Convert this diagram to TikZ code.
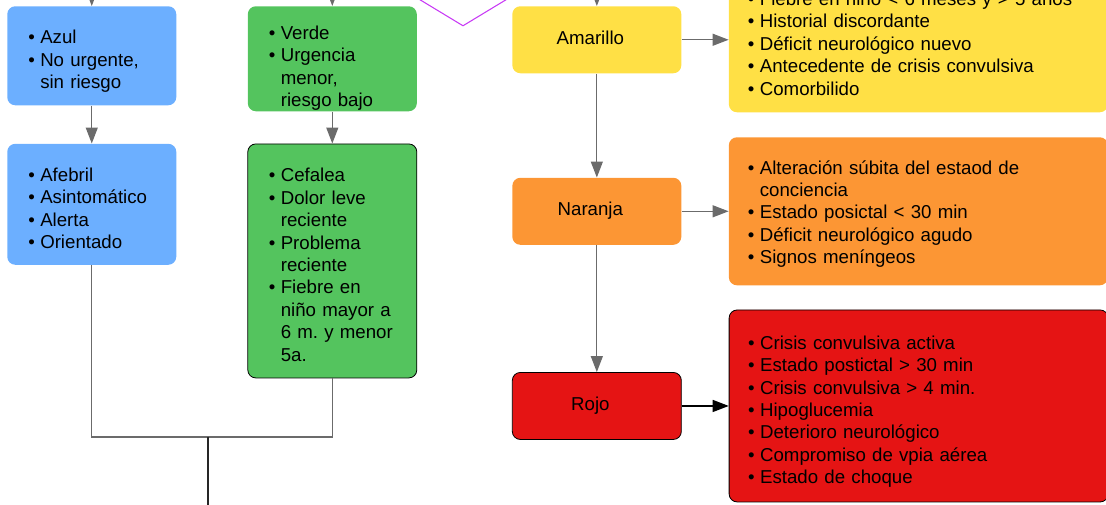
\documentclass[tikz,border=0pt]{standalone}
\usepackage{fontspec}
\setmainfont{Liberation Sans}
\usepackage{xcolor}
\usepackage{tikz}
\usetikzlibrary{positioning, arrows.meta, shapes.geometric}

\definecolor{azulF}{HTML}{6CAFFF}
\definecolor{verdeF}{HTML}{54C45E}
\definecolor{amarF}{HTML}{FFE045}
\definecolor{narF}{HTML}{FC9634}
\definecolor{rojoF}{HTML}{E51414}
\definecolor{lineaG}{HTML}{6B6B6B}
\definecolor{decF}{HTML}{C83AF5}

\frenchspacing
\newcommand{\lz}{\rule[-4.8pt]{0pt}{16.8pt}}
\newcommand{\bul}{\lz\makebox[9pt][l]{\textbullet}}
\newcommand{\bulI}[1][20.7pt]{\rule[-4.8pt]{0pt}{\dimexpr#1+4.8pt\relax}\makebox[9pt][l]{\textbullet}}
\newcommand{\sig}{\lz\hspace*{9pt}}
\newcommand{\sigF}[1]{\rule{0pt}{12pt}\hspace*{9pt}\raisebox{0pt}[\height][0pt]{#1}}

\begin{document}
\begin{tikzpicture}[
    x=0.75pt, y=-0.75pt,
    font=\fontsize{14}{16.8}\selectfont,
    box/.style={rectangle, rounded corners=6pt, inner ysep=0pt, inner xsep=15.75pt, text width=95.25pt, align=left},
    lista/.style={rectangle, rounded corners=6pt, inner ysep=0pt, inner xsep=14.25pt, text width=255.75pt, align=left},
    tag/.style={rectangle, rounded corners=6pt, minimum width=126.75pt, minimum height=50.25pt, text height=10.5pt, text depth=3.5pt},
    borde/.style={draw=black, line width=0.6pt},
    arr/.style={-{Triangle[length=12pt, width=9pt]}, draw=lineaG, line width=0.9pt},
    arrk/.style={-{Triangle[length=12pt, width=9pt]}, draw=black, line width=0.9pt}
]
\useasboundingbox (0,0) rectangle (1106,505);

\node[diamond, draw=decF, line width=0.8pt, minimum width=213pt, minimum height=129pt] (decision) at (463,-60) {};

\node[box, fill=azulF, minimum height=74.25pt, anchor=north west] (azul) at (7,6)
    {\bulI Azul\\ \bul No urgente,\\ \sig sin riesgo};
\node[box, fill=azulF, minimum height=90.75pt, below=28.5pt of azul] (afebril)
    {\bulI Afebril\\ \bul Asintomático\\ \bul Alerta\\ \bul Orientado};
\node[box, fill=verdeF, minimum height=78.75pt, right=53.25pt of azul.north east, anchor=north west] (verde)
    {\bulI[21.1pt]Verde\\ \bul Urgencia\\ \sig menor,\\ \sigF{riesgo bajo}};
\node[box, borde, fill=verdeF, minimum height=175.5pt, below=24pt of verde] (cefalea)
    {\bulI Cefalea\\ \bul Dolor leve\\ \sig reciente\\ \bul Problema\\ \sig reciente\\ \bul Fiebre en\\ \sig \mbox{niño mayor a}\\ \sig \mbox{6 m. y menor}\\ \sig 5a.};

\node[tag, fill=amarF, right=71.25pt of verde.north east, anchor=north west] (amarillo) {Amarillo\hspace*{9.75pt}};
\node[tag, fill=narF, below=78pt of amarillo] (naranja) {Naranja\hspace*{9.75pt}};
\node[tag, borde, fill=rojoF, below=95.25pt of naranja] (rojo) {Rojo\hspace*{9.75pt}};

\node[lista, fill=amarF, minimum height=108.75pt, right=35.25pt of amarillo] (listam)
    {\bulI Fiebre en niño < 6 meses y > 5 años\\ \bul Historial discordante\\ \bul Déficit neurológico nuevo\\ \bul Antecedente de crisis convulsiva\\ \bul Comorbilido};
\node[lista, fill=narF, minimum height=111pt, right=35.25pt of naranja] (listna)
    {\bulI[16.2pt]Alteración súbita del estaod de\\ \sig conciencia\\ \bul Estado posictal < 30 min\\ \bul Déficit neurológico agudo\\ \bul Signos meníngeos};
\node[lista, borde, fill=rojoF, minimum height=144pt, right=35.25pt of rojo] (listro)
    {\bulI Crisis convulsiva activa\\ \bul Estado postictal > 30 min\\ \bul Crisis convulsiva > 4 min.\\ \bul Hipoglucemia\\ \bul Deterioro neurológico\\ \bul Compromiso de vpia aérea\\ \bul Estado de choque};

\coordinate[above=25pt of azul.north] (inAzul);
\coordinate[above=25pt of verde.north] (inVerde);
\coordinate[above=25pt of amarillo.north] (inAmarillo);
\coordinate (merge) at (208,437);
\coordinate (salida) at (208,520);

\draw[arr] (inAzul) -- (azul.north);
\draw[arr] (inVerde) -- (verde.north);
\draw[arr] (inAmarillo) -- (amarillo.north);
\draw[arr] (azul) -- (afebril);
\draw[arr] (verde) -- (cefalea);
\draw[arr] (amarillo) -- (naranja);
\draw[arr] (naranja) -- (rojo);
\draw[arr] (amarillo) -- (listam);
\draw[arr] (naranja) -- (listna);
\draw[arrk] (rojo) -- (listro);

\draw[lineaG, line width=1pt] (afebril.south) |- (merge) -| (cefalea.south);
\draw[black!85, line width=1.5pt] (merge) -- (salida);
\end{tikzpicture}
\end{document}
